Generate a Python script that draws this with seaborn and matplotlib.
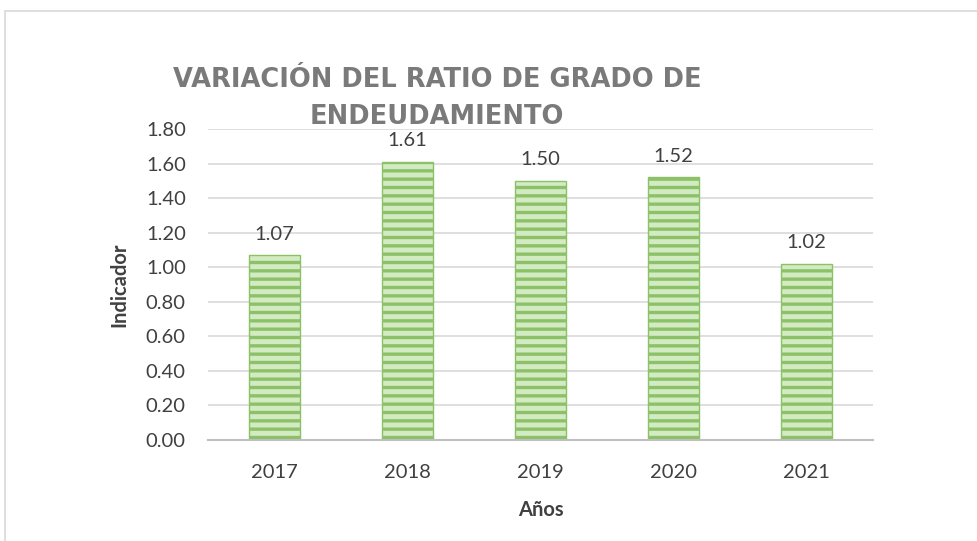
import matplotlib
matplotlib.use("Agg")
import matplotlib.pyplot as plt
import seaborn as sns
import pandas as pd

years = ["2017", "2018", "2019", "2020", "2021"]
values = [1.07, 1.61, 1.50, 1.52, 1.02]
yticks = [0.0, 0.2, 0.4, 0.6, 0.8, 1.0, 1.2, 1.4, 1.6, 1.8]

sns.set_theme(style="white")
plt.rcParams['font.family'] = ['Lato', 'DejaVu Sans']
plt.rcParams['hatch.linewidth'] = 2.4
plt.rcParams['hatch.color'] = '#78b84f'

df = pd.DataFrame({"year": years, "value": values})

fig = plt.figure(figsize=(9.77, 5.41), dpi=100)
ax = fig.add_axes([208/977, 1-440/541, (873-208)/977, (440-129)/541])

sns.barplot(data=df, x="year", y="value", ax=ax, width=0.39,
            color="#d3ebc3", saturation=1)
for p in ax.patches:
    p.set_hatch('--')
    p.set_edgecolor('#8cc168')
    p.set_linewidth(1.0)

ax.set_ylim(0, 1.8)
ax.set_yticks(yticks)
ax.set_yticklabels([f"{v:.2f}" for v in yticks], fontsize=14.5, color="#404040")
ax.tick_params(axis='y', length=0, pad=16)
ax.tick_params(axis='x', length=0, pad=17, labelsize=14.5, labelcolor="#404040")
ax.grid(axis='y', color='#d9d9d9', linewidth=1.2)
ax.set_axisbelow(True)
for s in ['top', 'right', 'left']:
    ax.spines[s].set_visible(False)
ax.spines['bottom'].set_color('#bfbfbf')
ax.spines['bottom'].set_linewidth(1.5)

for i, v in enumerate(values):
    ax.annotate(f"{v:.2f}", (i, v), xytext=(0, 9), textcoords='offset points',
                ha='center', va='bottom', fontsize=14.5, color='#404040')

ax.set_xlabel("Años", fontsize=14.5, fontweight='bold', color='#404040', labelpad=14)
ax.set_ylabel("Indicador", fontsize=14.5, fontweight='bold', color='#404040', labelpad=12)

title_font = ['DejaVu Sans']
fig.text(437/977, 1-80/541, "VARIACIÓN DEL RATIO DE GRADO DE", ha='center', va='center',
         fontsize=18.5, fontweight='bold', color='#7a7a7a', family=title_font)
fig.text(437/977, 1-117/541, "ENDEUDAMIENTO", ha='center', va='center',
         fontsize=18.5, fontweight='bold', color='#7a7a7a', family=title_font)

# chart frame (partial)
fig.add_artist(plt.Line2D([5/977, 1.0], [1-11/541, 1-11/541], transform=fig.transFigure,
                          color='#d9d9d9', linewidth=1.2))
fig.add_artist(plt.Line2D([5/977, 5/977], [0, 1-11/541], transform=fig.transFigure,
                          color='#d9d9d9', linewidth=1.2))

fig.savefig("out.png", dpi=100)
